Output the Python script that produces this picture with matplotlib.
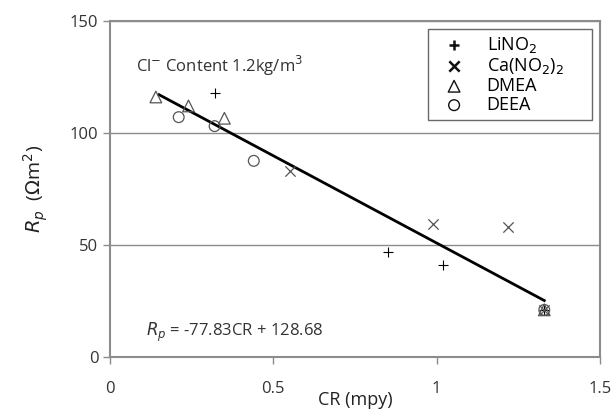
import numpy as np
import matplotlib.pyplot as plt

plt.rcParams['font.family'] = ['Open Sans', 'DejaVu Sans']
plt.rcParams['mathtext.fontset'] = 'dejavusans'

# corrosion rate (mpy) vs polarization resistance (Ohm m2) per inhibitor
lino2_cr = [0.32, 0.85, 1.02, 1.33]
lino2_rp = [118, 47, 41, 21]
cano2_cr = [0.55, 0.99, 1.22, 1.33]
cano2_rp = [83, 59.5, 58, 21]
dmea_cr = [0.14, 0.24, 0.35, 1.33]
dmea_rp = [116, 112, 106.5, 21]
deea_cr = [0.21, 0.32, 0.44, 1.33]
deea_rp = [107, 103, 87.5, 21]

slope = -77.83
intercept = 128.68
fit_range = [0.15, 1.33]

grey = "#8c8c8c"

fig = plt.figure(figsize=(6.12, 4.16), dpi=100)
ax = fig.add_axes([0.18, 0.142, 0.8, 0.808])

ax.scatter(lino2_cr, lino2_rp, marker="+", s=60, color="black", linewidths=0.8, label="LiNO$_2$", zorder=3)
ax.scatter(cano2_cr, cano2_rp, marker="x", s=55, color="#555555", linewidths=0.9, label="Ca(NO$_2$)$_2$", zorder=3)
ax.scatter(dmea_cr, dmea_rp, marker="^", s=70, facecolors="none", edgecolors="#555555", linewidths=0.9, label="DMEA", zorder=3)
ax.scatter(deea_cr, deea_rp, marker="o", s=60, facecolors="none", edgecolors="#555555", linewidths=0.9, label="DEEA", zorder=3)

xs = np.array(fit_range)
ax.plot(xs, slope * xs + intercept, color="black", lw=2, zorder=2)

ax.set_xlim(0, 1.5)
ax.set_ylim(0, 150)
ax.set_xticks([0, 0.5, 1, 1.5])
ax.set_xticklabels(["0", "0.5", "1", "1.5"])
ax.set_yticks([0, 50, 100, 150])
ax.yaxis.grid(True, color=grey, lw=1)
ax.set_axisbelow(True)
for s in ax.spines.values():
    s.set_color(grey)
    s.set_linewidth(1.5)
ax.tick_params(colors=grey, labelcolor="#333333", labelsize=12, length=5, width=1)
ax.tick_params(axis="x", pad=12)

ax.set_xlabel("CR (mpy)", fontsize=13, color="#222222", labelpad=-4)
ax.set_ylabel("$R_p$  ($\\Omega$m$^2$)", fontsize=14, color="#222222", labelpad=14)

ax.text(0.08, 130, "Cl$^{-}$ Content 1.2kg/m$^3$", fontsize=12, color="#333333", va="center")
ax.text(0.11, 11, "$R_p$ = -77.83CR + 128.68", fontsize=12, color="#333333", va="center")

leg = ax.legend(loc="upper left", bbox_to_anchor=(0.649, 0.976, 0.335, 0), mode="expand",
                fontsize=13, frameon=True, fancybox=False, handletextpad=0.7,
                labelspacing=0.05, borderpad=0.35, handlelength=2.2,
                scatterpoints=1, borderaxespad=0)
leg.get_frame().set_edgecolor("#444444")
leg.get_frame().set_linewidth(1)
for h, lw in zip(leg.legend_handles, [1.8, 1.8, 1.0, 1.0]):
    h.set_edgecolor("#111111")
    h.set_linewidth(lw)

fig.savefig("out.png", dpi=100)
